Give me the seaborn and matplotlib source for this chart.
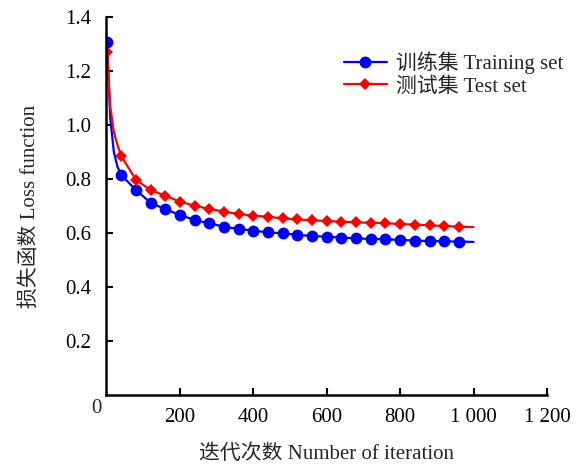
import matplotlib
matplotlib.use("Agg")
import matplotlib.pyplot as plt
import seaborn as sns
import pandas as pd

# Loss curves recorded during training
iterations = [2, 10, 20, 30, 40, 80, 120, 160, 200, 240, 280, 320, 360, 400, 440,
              480, 520, 560, 600, 640, 680, 720, 760, 800, 840, 880, 920, 960, 1000]
train_loss = [1.305, 1.03, 0.90, 0.845, 0.815, 0.759, 0.712, 0.688, 0.667, 0.648,
              0.636, 0.623, 0.615, 0.609, 0.602, 0.599, 0.593, 0.589, 0.586, 0.583,
              0.580, 0.578, 0.577, 0.574, 0.572, 0.570, 0.569, 0.568, 0.567]
test_loss = [1.268, 1.07, 0.975, 0.925, 0.886, 0.797, 0.759, 0.738, 0.716, 0.701,
             0.689, 0.679, 0.670, 0.664, 0.660, 0.654, 0.650, 0.647, 0.644, 0.642,
             0.639, 0.638, 0.636, 0.633, 0.631, 0.628, 0.626, 0.623, 0.622]
# markers sit at the first sample and every 40 iterations up to 960
marker_idx = [0] + list(range(4, 28))

x_ticks = [200, 400, 600, 800, 1000, 1200]
x_tick_labels = ["200", "400", "600", "800", "1 000", "1 200"]
y_ticks = [0.2, 0.4, 0.6, 0.8, 1.0, 1.2, 1.4]
y_tick_labels = ["0.2", "0.4", "0.6", "0.8", "1.0", "1.2", "1.4"]

train_label = "训练集 Training set"
test_label = "测试集 Test set"
x_label = "迭代次数 Number of iteration"
y_label = "损失函数 Loss function"

sns.set_theme(style="ticks")
plt.rcParams["font.family"] = ["Liberation Serif", "Noto Sans CJK SC"]

df = pd.DataFrame({"iter": iterations, "train": train_loss, "test": test_loss})

fig = plt.figure(figsize=(5.85, 4.67), dpi=100)
ax = fig.add_axes([0.182, 0.154, 0.753, 0.810])

sns.lineplot(data=df, x="iter", y="train", ax=ax, color="#0000ff", lw=1.6,
             marker="o", markersize=8.5, markeredgewidth=0, markevery=marker_idx,
             label=train_label)
sns.lineplot(data=df, x="iter", y="test", ax=ax, color="#ff0000", lw=1.6,
             marker="D", markersize=6.5, markeredgewidth=0, markevery=marker_idx,
             label=test_label)

ax.set_xlim(0, 1200)
ax.set_ylim(0, 1.4)
ax.set_xticks(x_ticks)
ax.set_xticklabels(x_tick_labels)
ax.set_yticks(y_ticks)
ax.set_yticklabels(y_tick_labels)
ax.tick_params(direction="in", length=5, width=1.5, labelsize=15, colors="black",
               pad=11)
ax.tick_params(axis="x", pad=9)
for side in ("top", "right"):
    ax.spines[side].set_visible(False)
for side in ("left", "bottom"):
    ax.spines[side].set_linewidth(1.8)
    ax.spines[side].set_color("black")

# shared origin label at the corner
ax.text(-0.012, -0.01, "0", transform=ax.transAxes, ha="right", va="top",
        fontsize=15)

ax.set_xlabel(x_label, fontsize=15, labelpad=13)
ax.set_ylabel(y_label, fontsize=15, labelpad=18)

ax.legend(loc="upper left", bbox_to_anchor=(0.505, 0.947), frameon=False,
          fontsize=15, handlelength=2.1, handletextpad=0.4, labelspacing=0.15,
          borderpad=0.2)

fig.savefig("out.png", dpi=100)
